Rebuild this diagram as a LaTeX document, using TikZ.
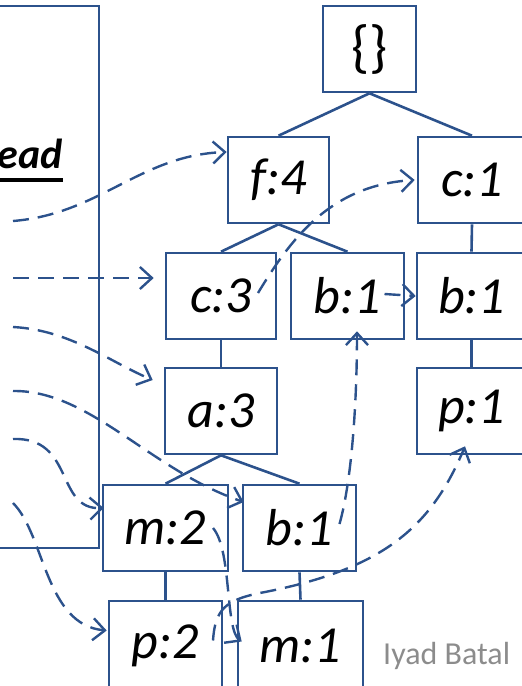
\documentclass[tikz,border=0pt]{standalone}
\usepackage{fontspec}
\setmainfont{Carlito}
\usetikzlibrary{arrows.meta,calc}
\definecolor{bl}{RGB}{44,82,140}
\tikzset{
  box/.style={draw=bl, line width=2.6pt, inner sep=0pt, font=\fontsize{52}{60}\selectfont\itshape},
  tline/.style={draw=bl, line width=2.6pt},
  darr/.style={draw=bl, line width=2.4pt, dash pattern=on 16pt off 9pt, -{Straight Barb[length=12pt,width=22pt,line width=2.4pt]}},
}
\begin{document}
\begin{tikzpicture}[x=1pt,y=-1pt]
\useasboundingbox (0,0) rectangle (522,686);
\clip (0,0) rectangle (522,686);
% header table (partly visible)
\node[draw=bl, line width=2.6pt, minimum width=110pt, minimum height=542pt] (hdr) at (44,277) {};
\node[anchor=base east, inner sep=0pt, font=\fontsize{42}{50}\selectfont\bfseries\itshape] (hd) at (63,168) {Head};
\draw[line width=4.5pt] ([yshift=-12pt]hd.base west) -- ([yshift=-12pt]hd.base east);
% tree nodes
\node[box, minimum width=93pt, minimum height=86pt, font=\fontsize{58}{66}\selectfont] (root) at (369.5,49) {\{\}};
\node[box, minimum width=101pt, minimum height=86pt] (f4) at (278.5,180) {f:4};
\node[box, minimum width=108pt, minimum height=86pt] (c1) at (472,180) {c:1\hspace{8pt}};
\node[box, minimum width=110pt, minimum height=86pt] (c3) at (221,296) {c:3};
\node[box, minimum width=113pt, minimum height=86pt] (b1m) at (347.5,296) {b:1};
\node[box, minimum width=109pt, minimum height=86pt] (b1r) at (471.5,296) {b:1\hspace{8pt}};
\node[box, minimum width=112pt, minimum height=86pt] (a3) at (221,411) {a:3};
\node[box, minimum width=109pt, minimum height=86pt] (p1) at (471.5,411) {p:1\hspace{8pt}};
\node[box, minimum width=125pt, minimum height=86pt] (m2) at (165.5,528) {m:2};
\node[box, minimum width=113pt, minimum height=86pt] (b1l) at (299.5,528) {b:1};
\node[box, minimum width=113pt, minimum height=89pt] (p2) at (165.5,645.5) {p:2};
\node[box, minimum width=125pt, minimum height=89pt] (m1) at (300.5,645.5) {m:1};
\node[anchor=base west, inner sep=0pt, text=black!45, font=\fontsize{32}{38}\selectfont] (author) at (383,664) {Iyad Batal};
% tree lines
\draw[tline] (root.south) -- (f4.north);
\draw[tline] (root.south) -- (c1.north);
\draw[tline] (f4.south) -- (c3.north);
\draw[tline] (f4.south) -- (b1m.north);
\draw[tline] (c1.south) -- (b1r.north);
\draw[tline] (c3.south) -- (a3.north);
\draw[tline] (b1r.south) -- (p1.north);
\draw[tline] (a3.south) -- (m2.north);
\draw[tline] (a3.south) -- (b1l.north);
\draw[tline] (m2.south) -- (p2.north);
\draw[tline] (b1l.south) -- (m1.north);
% free ends
\coordinate (s1) at (13,221);
\coordinate (s2) at (13,278);
\coordinate (s3) at (13,327);
\coordinate (s4) at (13,391);
\coordinate (s5) at (13,439);
\coordinate (s6) at (13,503);
\coordinate (t1) at ($(f4.west)+(0,-28)$);
\coordinate (t3) at ($(a3.west)+(-11,-31)$);
\coordinate (t4) at ($(b1l.west)+(2,-26)$);
\coordinate (t5) at ($(m2.west)+(2,-20)$);
\coordinate (t6) at ($(p2.west)+(-1,-15)$);
\coordinate (u7) at ($(c3.center)+(37,-3)$);
\coordinate (t7) at ($(c1.west)+(-2,0)$);
\coordinate (u8) at ($(b1m.center)+(37,-2)$);
\coordinate (u9) at ($(b1l.center)+(40,-4)$);
\coordinate (t9) at ($(b1m.south)+(9.5,-9)$);
\coordinate (u10) at ($(m2.center)+(47.5,0)$);
\coordinate (t10) at ($(m1.west)+(5,-4)$);
\coordinate (u11) at ($(p2.center)+(47.5,-5)$);
\coordinate (t11) at ($(p1.south)+(-6.5,-9)$);
% dashed arrows
\draw[darr] (s1) .. controls (100,214) and (140,155) .. (t1);
\draw[darr, shorten >=11pt] (s2) -- (s2 -| c3.west);
\draw[darr] (s3) .. controls (70,330) and (110,362) .. (t3);
\draw[darr] (s4) .. controls (90,390) and (150,470) .. (t4);
\draw[darr] (s5) .. controls (75,437) and (55,510) .. (t5);
\draw[darr] (s6) .. controls (45,535) and (45,625) .. (t6);
\draw[darr] (u7) .. controls (290,240) and (330,185) .. (t7);
\draw[darr] (u8) -- (b1r.west);
\draw[darr] (u9) .. controls (352,480) and (357,400) .. (t9);
\draw[darr] (u10) .. controls (232,550) and (225,630) .. (t10);
\draw[darr] (u11) .. controls (215,610) and (225,600) .. (260,593) .. controls (380,570) and (430,530) .. (t11);
\end{tikzpicture}
\end{document}
